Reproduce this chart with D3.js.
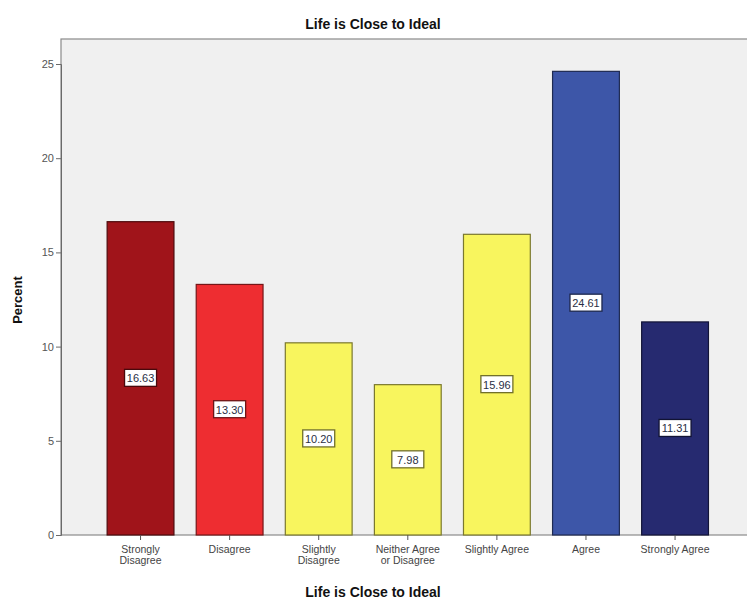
<!DOCTYPE html>
<html>
<head>
<meta charset="utf-8">
<script src="https://cdn.jsdelivr.net/npm/d3@7"></script>
<style>
  body { margin: 0; background: #ffffff; }
  svg { display: block; font-family: "Liberation Sans", Arial, sans-serif; }
</style>
</head>
<body>
<svg id="chart" width="747" height="600"></svg>
<script>
// Response categories, percentages and bar colours
const categories = ["Strongly Disagree", "Disagree", "Slightly Disagree", "Neither Agree or Disagree", "Slightly Agree", "Agree", "Strongly Agree"];
const categoryLines = [["Strongly", "Disagree"], ["Disagree"], ["Slightly", "Disagree"], ["Neither Agree", "or Disagree"], ["Slightly Agree"], ["Agree"], ["Strongly Agree"]];
const percents = [16.63, 13.30, 10.20, 7.98, 15.96, 24.61, 11.31];
const barColors = ["#a0141a", "#ee2d31", "#f8f55e", "#f8f55e", "#f8f55e", "#3d56a8", "#262a70"];
const yTicks = [0, 5, 10, 15, 20, 25];

const svg = d3.select("#chart");

const frame = { left: 61, top: 39, right: 760, bottom: 535 };

const x = d3.scaleBand()
  .domain(categories)
  .range([96, 719.6])
  .paddingInner(0.25)
  .paddingOuter(0.125);

const y = d3.scaleLinear()
  .domain([0, 25])
  .range([535, 64]);

// Plot background panel
svg.append("rect")
  .attr("x", frame.left)
  .attr("y", frame.top)
  .attr("width", frame.right - frame.left)
  .attr("height", frame.bottom - frame.top)
  .attr("fill", "#f0f0f0")
  .attr("stroke", "#8a8a8a")
  .attr("stroke-width", 1.2);

// Bars
const bars = svg.append("g");
bars.selectAll("rect")
  .data(categories)
  .join("rect")
  .attr("x", d => x(d))
  .attr("y", (d, i) => y(percents[i]))
  .attr("width", x.bandwidth())
  .attr("height", (d, i) => y(0) - y(percents[i]))
  .attr("fill", (d, i) => barColors[i])
  .attr("stroke", (d, i) => d3.color(barColors[i]).darker(2))
  .attr("stroke-width", 1.2);

// Value labels in boxes at mid-height
const labels = svg.append("g");
categories.forEach((d, i) => {
  const cx = x(d) + x.bandwidth() / 2;
  const cy = (y(percents[i]) + y(0)) / 2;
  const g = labels.append("g").attr("transform", `translate(${cx},${cy})`);
  g.append("rect")
    .attr("x", -16).attr("y", -9)
    .attr("width", 32).attr("height", 17)
    .attr("fill", "#ffffff")
    .attr("stroke", d3.color(barColors[i]).darker(2.2))
    .attr("stroke-width", 1.3);
  g.append("text")
    .attr("text-anchor", "middle")
    .attr("dy", "0.35em")
    .attr("font-size", 11)
    .attr("fill", "#2a2f45")
    .text(percents[i].toFixed(2));
});

// Y axis
const yAxis = svg.append("g")
  .attr("transform", `translate(${frame.left},0)`)
  .call(d3.axisLeft(y).tickValues(yTicks).tickSize(5).tickPadding(2));
yAxis.select(".domain").attr("stroke", "#6a6a6a");
yAxis.selectAll(".tick line").attr("stroke", "#6a6a6a");
yAxis.selectAll(".tick text").attr("font-size", 11).attr("fill", "#555").attr("font-family", "Liberation Sans, Arial, sans-serif");

// X axis with wrapped category names
const xAxis = svg.append("g")
  .attr("transform", `translate(0,${frame.bottom})`)
  .call(d3.axisBottom(x).tickSize(5).tickFormat(""));
xAxis.select(".domain").remove();
xAxis.selectAll(".tick line").attr("stroke", "#555");
xAxis.selectAll(".tick").each(function(d, i) {
  const t = d3.select(this).append("text")
    .attr("fill", "#444")
    .attr("font-size", 10.5)
    .attr("text-anchor", "middle")
    .attr("font-family", "Liberation Sans, Arial, sans-serif");
  categoryLines[i].forEach((line, j) => {
    t.append("tspan").attr("x", 0).attr("y", 18 + j * 11).text(line);
  });
});

// Titles
svg.append("text")
  .attr("x", 373).attr("y", 29)
  .attr("text-anchor", "middle")
  .attr("font-size", 14).attr("font-weight", "bold")
  .attr("fill", "#111")
  .text("Life is Close to Ideal");

svg.append("text")
  .attr("x", 373).attr("y", 597)
  .attr("text-anchor", "middle")
  .attr("font-size", 14).attr("font-weight", "bold")
  .attr("fill", "#111")
  .text("Life is Close to Ideal");

svg.append("text")
  .attr("transform", "translate(22,300) rotate(-90)")
  .attr("text-anchor", "middle")
  .attr("font-size", 13).attr("font-weight", "bold")
  .attr("fill", "#111")
  .text("Percent");
</script>
</body>
</html>
